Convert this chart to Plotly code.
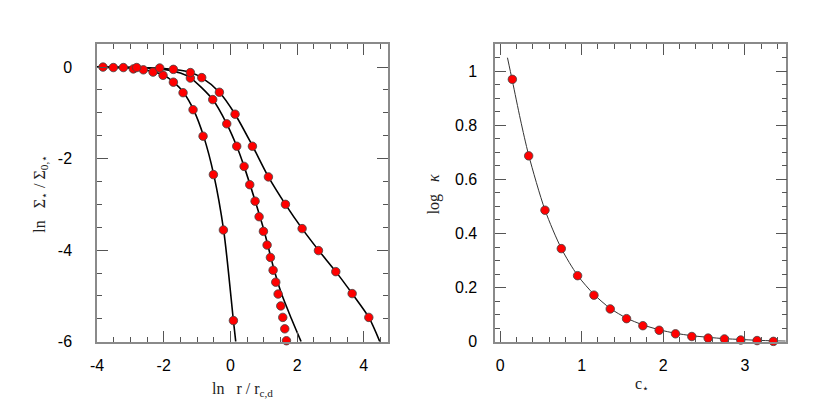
import plotly.graph_objects as go

# --- left panel: surface density profiles (markers) ---
a_x = [-3.82, -3.51, -3.21, -2.91, -2.61, -2.32, -2.02, -1.71, -1.42, -1.12, -0.82, -0.51, -0.21, 0.09]
a_y = [0.0, -0.01, -0.01, -0.04, -0.06, -0.11, -0.18, -0.33, -0.56, -0.93, -1.51, -2.35, -3.56, -5.54]

b_x = [-1.20, -0.53, -0.11, 0.19, 0.41, 0.58, 0.74, 0.86, 0.99, 1.10, 1.20, 1.28, 1.36, 1.43, 1.51, 1.57, 1.63, 1.68]
b_y = [-0.24, -0.71, -1.24, -1.73, -2.17, -2.57, -2.93, -3.27, -3.59, -3.89, -4.16, -4.44, -4.70, -4.96, -5.22, -5.47, -5.72, -5.98]

c_x = [-2.81, -2.12, -1.71, -1.20, -0.86, -0.33, 0.14, 0.66, 1.14, 1.65, 2.15, 2.64, 3.16, 3.65, 4.15]
c_y = [-0.01, -0.02, -0.05, -0.12, -0.23, -0.55, -1.03, -1.73, -2.40, -3.00, -3.53, -4.01, -4.47, -4.95, -5.47]

# model curves
fa_x = [-4.0, -3.0, -2.5, -2.0, -1.7, -1.4, -1.1, -0.8, -0.5, -0.2, 0.09, 0.16]
fa_y = [0.0, -0.02, -0.07, -0.18, -0.33, -0.56, -0.94, -1.52, -2.35, -3.58, -5.54, -6.0]

fb_x = [-4.0, -3.0, -2.5, -2.0, -1.5, -1.2, -0.53, -0.11, 0.19, 0.41, 0.74, 1.0, 1.31, 1.53, 1.83, 2.12]
fb_y = [0.0, -0.005, -0.02, -0.05, -0.13, -0.235, -0.71, -1.24, -1.73, -2.17, -2.92, -3.55, -4.43, -4.95, -5.5, -6.0]

fc_x = [-4.0, -3.0, -2.0, -1.5, -1.2, -0.86, -0.33, 0.14, 0.66, 1.14, 1.65, 2.15, 2.64, 3.16, 3.65, 4.15, 4.48]
fc_y = [0.0, -0.01, -0.03, -0.07, -0.12, -0.23, -0.55, -1.03, -1.72, -2.40, -3.0, -3.53, -4.0, -4.47, -4.95, -5.47, -6.0]

# --- right panel: log kappa vs c* ---
k_x = [0.15, 0.35, 0.55, 0.75, 0.95, 1.15, 1.35, 1.55, 1.75, 1.95, 2.15, 2.35, 2.55, 2.75, 2.95, 3.15, 3.35]
k_y = [0.970, 0.687, 0.486, 0.344, 0.244, 0.172, 0.121, 0.085, 0.059, 0.042, 0.029, 0.019, 0.013, 0.010, 0.006, 0.004, 0.001]

fk_x = [0.09, 0.15, 0.25, 0.35, 0.55, 0.75, 0.95, 1.15, 1.35, 1.55, 1.75, 1.95, 2.15, 2.35, 2.55, 2.75, 2.95, 3.15, 3.35, 3.5]
fk_y = [1.05, 0.965, 0.82, 0.69, 0.487, 0.345, 0.245, 0.175, 0.123, 0.087, 0.062, 0.044, 0.031, 0.022, 0.016, 0.011, 0.008, 0.005, 0.003, 0.002]

left_ticks = [-4, -2, 0, 2, 4]
left_yticks = [-6, -4, -2, 0]

W, H = 830, 417
OFF = 8  # the page body margin shifts the figure by 8px


def px_x(p):
    return (p - OFF) / W


def px_y(p):
    return 1 - (p - OFF) / H


fig = go.Figure()

for fx, fy in [(fa_x, fa_y), (fb_x, fb_y), (fc_x, fc_y)]:
    fig.add_trace(go.Scatter(x=fx, y=fy, mode="lines", xaxis="x", yaxis="y",
                             line=dict(color="black", width=1.6, shape="spline", smoothing=0.8)))
fig.add_trace(go.Scatter(x=fk_x, y=fk_y, mode="lines", xaxis="x2", yaxis="y2",
                         line=dict(color="#333333", width=1, shape="spline", smoothing=0.8)))

marker = dict(color="red", size=8.5, line=dict(color="#444444", width=0.8))
for mx, my in [(a_x, a_y), (b_x, b_y), (c_x, c_y)]:
    fig.add_trace(go.Scatter(x=mx, y=my, mode="markers", xaxis="x", yaxis="y",
                             marker=marker, cliponaxis=False))
fig.add_trace(go.Scatter(x=k_x, y=k_y, mode="markers", xaxis="x2", yaxis="y2",
                         marker=marker, cliponaxis=False))

tickfont = dict(family="Liberation Sans, Arial, sans-serif", size=16, color="black")
titlefont = dict(family="Liberation Serif, Times New Roman, serif", size=16, color="#222222")
common = dict(showgrid=False, zeroline=False, showline=True, linecolor="#8a8a8a", linewidth=1.5,
              mirror="allticks", ticks="inside", ticklen=11, tickcolor="#555555", tickwidth=1,
              tickfont=tickfont)
minor = lambda d: dict(dtick=d, ticks="inside", ticklen=5, tickcolor="#555555")

ydom = [px_y(349), px_y(45)]

fig.update_layout(
    width=W, height=H,
    margin=dict(l=0, r=0, t=0, b=0),
    paper_bgcolor="white", plot_bgcolor="white",
    showlegend=False,
    xaxis=dict(domain=[px_x(90.7), px_x(384)], range=[-4, 4.72], anchor="y",
               tickvals=left_ticks, ticktext=[str(v) for v in left_ticks],
               minor=minor(0.5), ticklabelstandoff=8, **common),
    yaxis=dict(domain=ydom, range=[-6, 0.5], anchor="x",
               tickvals=left_yticks, ticktext=[str(v) for v in left_yticks],
               minor=minor(0.5), ticklabelstandoff=20, **common),
    xaxis2=dict(domain=[px_x(492.3), px_x(786)], range=[-0.06, 3.51], anchor="y2", dtick=1,
                minor=minor(0.2), ticklabelstandoff=8, **common),
    yaxis2=dict(domain=ydom, range=[0, 1.1], anchor="x2", dtick=0.2,
                minor=minor(0.05), ticklabelstandoff=13, **common),
)

labels = [
    ("ln   r / r<sub>c,d</sub>", 237, 398, 0),
    ("c<sub>⋆</sub>", 640, 393, 0),
    ("ln   Σ<sub>⋆</sub> / Σ<sub>0,⋆</sub>", 34, 198, -90),
    ("log   <i>κ</i>", 430, 198, -90),
]
for text, lx, ly, ang in labels:
    fig.add_annotation(text=text, x=px_x(lx), y=px_y(ly), xref="paper", yref="paper",
                       xanchor="center", yanchor="middle", showarrow=False,
                       font=titlefont, textangle=ang)

fig.write_html("out.html")
